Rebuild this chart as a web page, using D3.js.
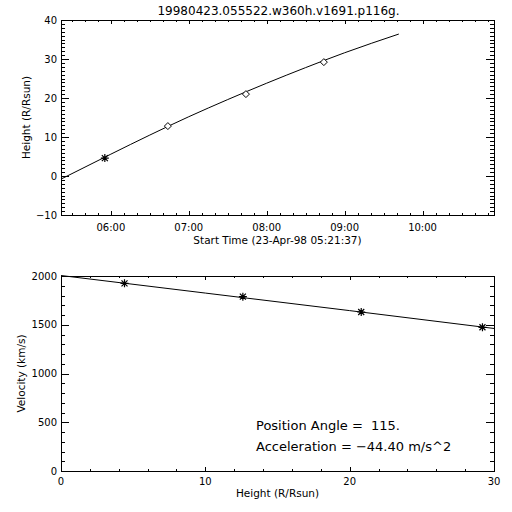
<!DOCTYPE html>
<html>
<head>
<meta charset="utf-8">
<script src="https://cdn.jsdelivr.net/npm/d3@7"></script>
<style>
  html, body { margin: 0; padding: 0; background: #fff; }
  text { font-family: "DejaVu Sans", sans-serif; fill: #000; }
</style>
</head>
<body>
<svg id="chart" width="512" height="512"></svg>
<script>
// ---------------- data ----------------
const chartTitle = "19980423.055522.w360h.v1691.p116g.";
const startTimeLabel = "Start Time (23-Apr-98 05:21:37)";
const timeDomain = ["05:21:37", "10:55:00"];
// measured points (height-time)
const obsTimes = ["05:55:22", "06:43:54", "07:44:00", "08:44:00"];
const obsHeights = [4.6, 12.8, 21.0, 29.2];
const obsSymbols = ["star", "diamond", "diamond", "diamond"];
// fitted height-time curve
const fitTimes = ["05:21:37", "06:00:00", "06:30:00", "07:00:00", "07:30:00", "08:00:00", "08:30:00", "09:00:00", "09:41:44"];
const fitHeights = [-0.8, 5.6, 10.5, 15.2, 19.6, 23.8, 27.8, 31.6, 36.4];
const heightTicks = [-10, 0, 10, 20, 30, 40];
const timeTickLabels = ["06:00", "07:00", "08:00", "09:00", "10:00"];
// velocity-height
const velHeights = [4.4, 12.6, 20.8, 29.2];
const velValues = [1925, 1788, 1631, 1474];
const velFitHeights = [0, 10, 20, 30];
const velFitValues = [2005, 1825, 1645, 1462];
const velTicks = [0, 500, 1000, 1500, 2000];
const hTicks = [0, 10, 20, 30];
const annotations = ["Position Angle =  115.", "Acceleration = \u221244.40 m/s^2"];

// ---------------- drawing ----------------
const svg = d3.select("#chart");
svg.append("rect").attr("width", 512).attr("height", 512).attr("fill", "#fff");

const parseT = d3.utcParse("%Y-%m-%d %H:%M:%S");
const T = s => parseT("1998-04-23 " + s);
const fmtNum = d3.format("");

const L = 61, R = 494;

function frame(g, top, bottom) {
  g.append("rect").attr("x", L).attr("y", top).attr("width", R - L).attr("height", bottom - top)
    .attr("fill", "none").attr("stroke", "#000").attr("stroke-width", 1).attr("shape-rendering", "crispEdges");
}
function xTicks(g, x, vals, top, bottom, len) {
  vals.forEach(v => {
    const px = Math.round(x(v)) + 0.5;
    g.append("line").attr("x1", px).attr("x2", px).attr("y1", bottom).attr("y2", bottom - len)
      .attr("stroke", "#000").attr("shape-rendering", "crispEdges");
    g.append("line").attr("x1", px).attr("x2", px).attr("y1", top).attr("y2", top + len)
      .attr("stroke", "#000").attr("shape-rendering", "crispEdges");
  });
}
function yTicks(g, y, vals, len) {
  vals.forEach(v => {
    const py = Math.round(y(v)) + 0.5;
    g.append("line").attr("x1", L).attr("x2", L + len).attr("y1", py).attr("y2", py)
      .attr("stroke", "#000").attr("shape-rendering", "crispEdges");
    g.append("line").attr("x1", R).attr("x2", R - len).attr("y1", py).attr("y2", py)
      .attr("stroke", "#000").attr("shape-rendering", "crispEdges");
  });
}
function star(g, cx, cy) {
  const r = 4, d = 3;
  const p = `M${cx - r},${cy}L${cx + r},${cy}M${cx},${cy - r}L${cx},${cy + r}` +
            `M${cx - d},${cy - d}L${cx + d},${cy + d}M${cx - d},${cy + d}L${cx + d},${cy - d}`;
  g.append("path").attr("d", p).attr("stroke", "#000").attr("stroke-width", 1.2).attr("fill", "none");
}
function diamond(g, cx, cy) {
  const r = 3.5;
  g.append("path").attr("d", `M${cx},${cy - r}L${cx + r},${cy}L${cx},${cy + r}L${cx - r},${cy}Z`)
    .attr("stroke", "#000").attr("stroke-width", 1).attr("fill", "#fff");
}

// ===== top panel: height vs time =====
const top1 = 20, bot1 = 215;
const gTop = svg.append("g");
const x1 = d3.scaleUtc().domain(timeDomain.map(T)).range([L, R]);
const y1 = d3.scaleLinear().domain([-10, 40]).range([bot1, top1]);

// fit curve
const fitData = fitTimes.map((t, i) => [T(t), fitHeights[i]]);
gTop.append("path").datum(fitData)
  .attr("d", d3.line().x(d => x1(d[0])).y(d => y1(d[1])).curve(d3.curveMonotoneX))
  .attr("fill", "none").attr("stroke", "#000").attr("stroke-width", 1);

obsTimes.forEach((t, i) => {
  const cx = x1(T(t)), cy = y1(obsHeights[i]);
  if (obsSymbols[i] === "star") star(gTop, cx, cy); else diamond(gTop, cx, cy);
});

frame(gTop, top1, bot1);
const minorTimes = d3.utcMinute.every(10).range(x1.domain()[0], x1.domain()[1]);
xTicks(gTop, x1, minorTimes, top1, bot1, 2);
const majorTimes = timeTickLabels.map(s => T(s + ":00"));
xTicks(gTop, x1, majorTimes, top1, bot1, 4);
yTicks(gTop, y1, d3.range(-10, 41, 1), 4);
yTicks(gTop, y1, heightTicks, 8);

majorTimes.forEach((t, i) => {
  gTop.append("text").attr("x", x1(t)).attr("y", 231).attr("text-anchor", "middle")
    .attr("font-size", 10).text(timeTickLabels[i]);
});
heightTicks.forEach(v => {
  gTop.append("text").attr("x", 57).attr("y", y1(v)).attr("dy", "0.35em").attr("text-anchor", "end")
    .attr("font-size", 10).text(v < 0 ? "\u2212" + Math.abs(v) : fmtNum(v));
});
gTop.append("text").attr("x", (L + R) / 2).attr("y", 244).attr("text-anchor", "middle")
  .attr("font-size", 10.5).text(startTimeLabel);
gTop.append("text").attr("transform", `translate(26,${(top1 + bot1) / 2}) rotate(-90)`)
  .attr("dy", "0.35em").attr("text-anchor", "middle").attr("font-size", 10.5).text("Height (R/Rsun)");
gTop.append("text").attr("x", (L + R) / 2 + 1).attr("y", 15).attr("text-anchor", "middle")
  .attr("font-size", 12).text(chartTitle);

// ===== bottom panel: velocity vs height =====
const top2 = 276, bot2 = 471;
const gBot = svg.append("g");
const x2 = d3.scaleLinear().domain([0, 30]).range([L, R]);
const y2 = d3.scaleLinear().domain([0, 2000]).range([bot2, top2]);

gBot.append("path").datum(velFitHeights.map((h, i) => [h, velFitValues[i]]))
  .attr("d", d3.line().x(d => x2(d[0])).y(d => y2(d[1])))
  .attr("fill", "none").attr("stroke", "#000").attr("stroke-width", 1);
velHeights.forEach((h, i) => star(gBot, x2(h), y2(velValues[i])));

frame(gBot, top2, bot2);
xTicks(gBot, x2, d3.range(0, 31, 2), top2, bot2, 2);
xTicks(gBot, x2, hTicks, top2, bot2, 4);
yTicks(gBot, y2, d3.range(0, 2001, 100), 4);
yTicks(gBot, y2, velTicks, 8);

hTicks.forEach(v => {
  gBot.append("text").attr("x", x2(v)).attr("y", 485).attr("text-anchor", "middle")
    .attr("font-size", 10).text(fmtNum(v));
});
velTicks.forEach(v => {
  gBot.append("text").attr("x", 57).attr("y", y2(v)).attr("dy", "0.35em").attr("text-anchor", "end")
    .attr("font-size", 10).text(fmtNum(v));
});
gBot.append("text").attr("x", (L + R) / 2).attr("y", 497).attr("text-anchor", "middle")
  .attr("font-size", 10.5).text("Height (R/Rsun)");
gBot.append("text").attr("transform", `translate(21,${(top2 + bot2) / 2}) rotate(-90)`)
  .attr("dy", "0.35em").attr("text-anchor", "middle").attr("font-size", 10.5).text("Velocity (km/s)");

gBot.append("text").attr("x", 256).attr("y", 430).attr("font-size", 13)
  .attr("xml:space", "preserve").style("white-space", "pre").text(annotations[0]);
gBot.append("text").attr("x", 256).attr("y", 451).attr("font-size", 13).text(annotations[1]);
</script>
</body>
</html>
